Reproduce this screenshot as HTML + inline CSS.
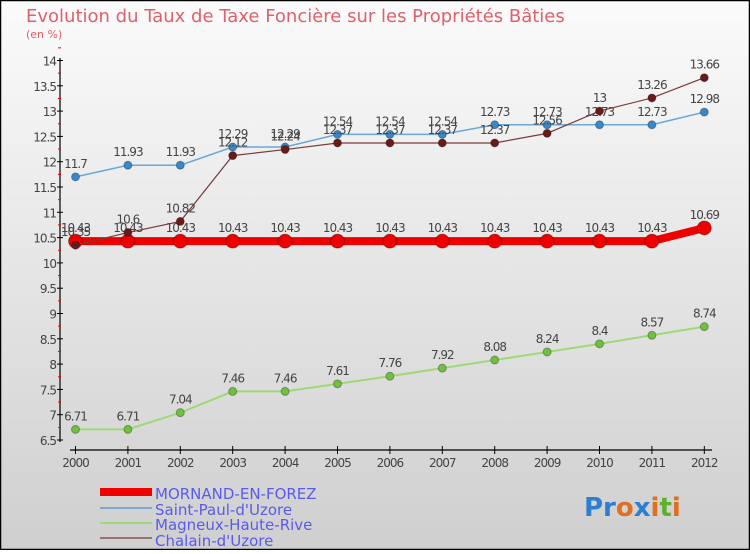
<!DOCTYPE html>
<html><head><meta charset="utf-8"><style>
body{margin:0;width:750px;height:550px;overflow:hidden;font-family:"DejaVu Sans","Liberation Sans",sans-serif}
</style></head><body>
<svg id="c" width="750" height="550" xmlns="http://www.w3.org/2000/svg">
<defs><linearGradient id="bg" x1="0" y1="0" x2="0" y2="1"><stop offset="0" stop-color="#fbfbfb"/><stop offset="1" stop-color="#cfcfcf"/></linearGradient></defs>
<rect x="0.5" y="0.5" width="749" height="549" fill="url(#bg)" stroke="#000" stroke-width="1.5"/>
<text x="26" y="22" font-size="18" fill="#e0606a">Evolution du Taux de Taxe Foncière sur les Propriétés Bâties</text>
<text x="26" y="38" font-size="11" fill="#e0606a">(en %)</text>
<g id="axes"></g><g id="series"></g>
<g>
<rect x="100" y="488" width="52" height="8" fill="#ee0000"/>
<text x="155" y="499" font-size="15" fill="#5a5aee">MORNAND-EN-FOREZ</text>
<line x1="100" y1="508" x2="152" y2="508" stroke="#7aa8d0" stroke-width="2"/>
<text x="155" y="515" font-size="15" fill="#5a5aee">Saint-Paul-d'Uzore</text>
<line x1="100" y1="523" x2="152" y2="523" stroke="#a0d878" stroke-width="2"/>
<text x="155" y="530" font-size="15" fill="#5a5aee">Magneux-Haute-Rive</text>
<line x1="100" y1="538" x2="152" y2="538" stroke="#9a7070" stroke-width="2"/>
<text x="155" y="546" font-size="15" fill="#5a5aee">Chalain-d'Uzore</text>
</g>
<g font-size="26" font-weight="bold">
<text x="584" y="516"><tspan fill="#2a7fd0">Pr</tspan><tspan fill="#e07020">o</tspan><tspan fill="#2a7fd0">x</tspan><tspan fill="#e07020">i</tspan><tspan fill="#60b030">t</tspan><tspan fill="#e07020">i</tspan></text>
</g>
</svg>
<script>
const years=["2000","2001","2002","2003","2004","2005","2006","2007","2008","2009","2010","2011","2012"];
const mornand=[10.43,10.43,10.43,10.43,10.43,10.43,10.43,10.43,10.43,10.43,10.43,10.43,10.69];
const saintPaul=[11.7,11.93,11.93,12.29,12.29,12.54,12.54,12.54,12.73,12.73,12.73,12.73,12.98];
const magneux=[6.71,6.71,7.04,7.46,7.46,7.61,7.76,7.92,8.08,8.24,8.4,8.57,8.74];
const chalain=[10.35,10.6,10.82,12.12,12.24,12.37,12.37,12.37,12.37,12.56,13,13.26,13.66];
const yTicks=[6.5,7,7.5,8,8.5,9,9.5,10,10.5,11,11.5,12,12.5,13,13.5,14];
const NS="http://www.w3.org/2000/svg";
const x=i=>75.5+i*52.4;
const y=v=>440-(v-6.5)*50.6;
function mk(t,a,p){const e=document.createElementNS(NS,t);for(const k in a)e.setAttribute(k,a[k]);p.appendChild(e);return e;}
const ax=document.getElementById('axes');
let l=mk('line',{x1:60,y1:58,x2:60,y2:442,stroke:'#000','stroke-width':1.2},ax);


l=mk('line',{x1:70,y1:450,x2:712,y2:450,stroke:'#000','stroke-width':1.2},ax);


yTicks.forEach(v=>{
  mk('line',{x1:57,y1:y(v),x2:63,y2:y(v),stroke:'#000'},ax);
  mk('line',{x1:58,y1:y(v+0.25),x2:61,y2:y(v+0.25),stroke:'#e00'},ax);
  const t=mk('text',{x:56,y:y(v)+5,'font-size':12,fill:'#444','text-anchor':'end','letter-spacing':'-1'},ax);
  t.textContent=String(v);
  
  
});
years.forEach((yr,i)=>{
  mk('line',{x1:x(i),y1:446,x2:x(i),y2:454,stroke:'#000'},ax);
  const t=mk('text',{x:x(i),y:467,'font-size':12,fill:'#444','text-anchor':'middle','letter-spacing':'-1'},ax);
  t.textContent=yr;
  
  
});
const sg=document.getElementById('series');
function series(name,data,col,dot,w,r){
  const g=mk('g',{},sg);
  
  
  const p=mk('polyline',{points:data.map((v,i)=>x(i)+','+y(v)).join(' '),fill:'none',stroke:col,'stroke-width':w},g);
  
  
  data.forEach((v,i)=>{
    const c=mk('circle',{cx:x(i),cy:y(v),r:r,fill:dot,stroke:'rgba(0,0,0,0.3)','stroke-width':1},g);
    
    
    const t=mk('text',{x:x(i),y:y(v)-9,'font-size':12,fill:'#444','text-anchor':'middle','letter-spacing':'-1'},g);
    t.textContent=String(v);
    
    
  });
}
series('saint-paul',saintPaul,'#6aa8d8','#3a88c8',1.5,4);
series('magneux',magneux,'#a0d878','#70c040',2,4);
series('mornand',mornand,'#ee0000','#ee0000',8,7);
series('chalain',chalain,'#7a3a3a','#6a1a1a',1.2,4);
</script>
</body></html>
